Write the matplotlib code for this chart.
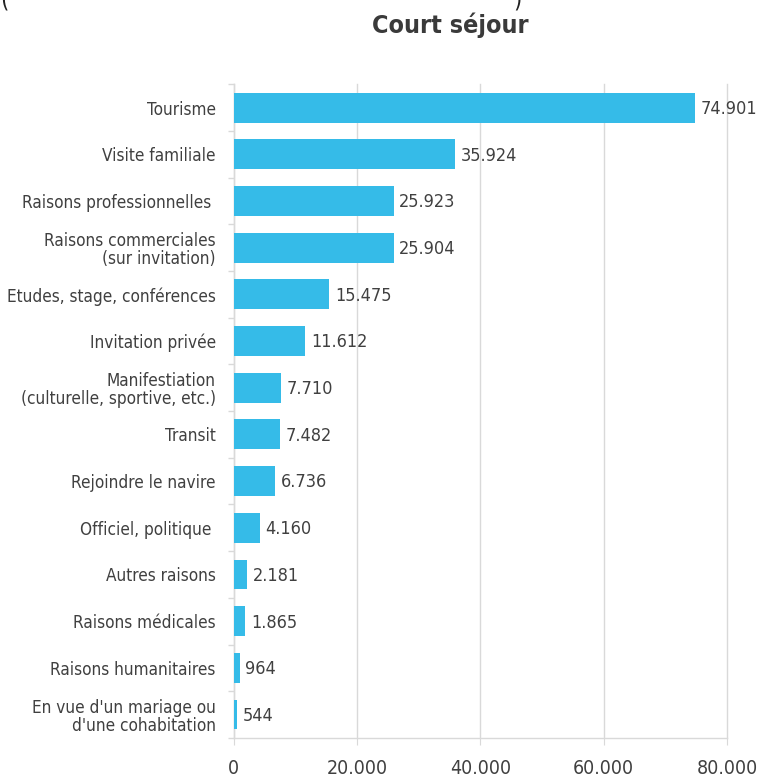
import matplotlib
matplotlib.use("Agg")
import matplotlib.pyplot as plt
from matplotlib.ticker import FixedLocator, FuncFormatter

plt.rcParams['font.family'] = ['DejaVu Sans']
plt.rcParams['font.stretch'] = 'condensed'

categories = [
    "Tourisme",
    "Visite familiale",
    "Raisons professionnelles ",
    "Raisons commerciales\n(sur invitation)",
    "Etudes, stage, conférences",
    "Invitation privée",
    "Manifestiation\n(culturelle, sportive, etc.)",
    "Transit",
    "Rejoindre le navire",
    "Officiel, politique ",
    "Autres raisons",
    "Raisons médicales",
    "Raisons humanitaires",
    "En vue d'un mariage ou\nd'une cohabitation",
]
values = [74901, 35924, 25923, 25904, 15475, 11612, 7710, 7482, 6736, 4160, 2181, 1865, 964, 544]
x_ticks = [0, 20000, 40000, 60000, 80000]

bar_color = "#35bbe8"
text_color = "#404040"
grid_color = "#d9d9d9"


def fmt_num(v, pos=None):
    return f"{int(v):,}".replace(",", ".")


fig = plt.figure(figsize=(7.77, 7.80), dpi=100)
ax = fig.add_axes([0.301, 0.054, 0.6345, 0.838])

ypos = list(range(len(categories)))
ax.barh(ypos, values, height=0.64, color=bar_color, zorder=3)
for y, v in zip(ypos, values):
    ax.annotate(fmt_num(v), (v, y), xytext=(4, -1), textcoords="offset points",
                ha="left", va="center", fontsize=13, color=text_color, zorder=4)

ax.set_xlim(0, 80000)
ax.set_ylim(len(categories) - 0.5, -0.5)
ax.xaxis.set_major_locator(FixedLocator(x_ticks))
ax.xaxis.set_major_formatter(FuncFormatter(fmt_num))
ax.set_yticks(ypos)
ax.set_yticklabels(categories, fontsize=12.3, color=text_color, linespacing=1.0)
ax.tick_params(axis="y", length=0, pad=13)
ax.set_yticks([i - 0.5 for i in range(len(categories) + 1)], minor=True)
ax.tick_params(axis="y", which="minor", length=4, color=grid_color, width=1)
ax.tick_params(axis="x", length=5, color=grid_color, pad=10, labelsize=14,
               labelcolor=text_color)

ax.grid(axis="x", color=grid_color, linewidth=1, zorder=0)
for gl in ax.get_xgridlines():
    gl.set_clip_on(False)
for s in ["top", "right"]:
    ax.spines[s].set_visible(False)
for s in ["left", "bottom"]:
    ax.spines[s].set_color(grid_color)
    ax.spines[s].set_linewidth(1)

fig.text(0.579, 0.968, "Court séjour", ha="center", va="center",
         fontsize=18, fontweight="bold", color="#3a3a3a")
# bord coupé du titre au-dessus (visible dans l'original)
fig.text(0.0, 1.0, "(", ha="left", va="center", fontsize=17, color="#222222")
fig.text(0.660, 1.0, ")", ha="left", va="center", fontsize=17, color="#222222")

fig.savefig("out.png", dpi=100)
